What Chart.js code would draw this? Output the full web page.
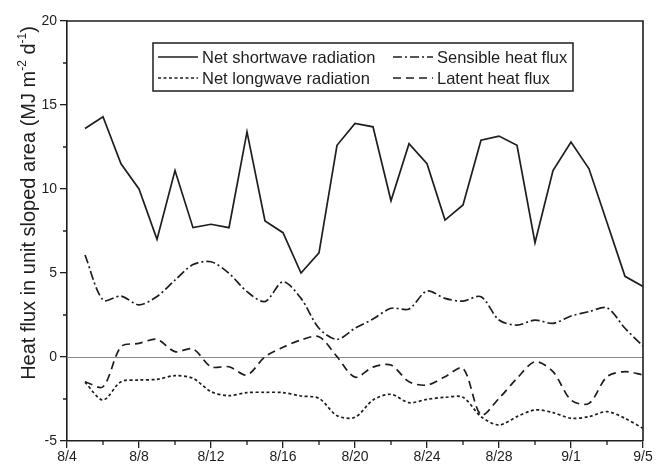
<!DOCTYPE html>
<html>
<head>
<meta charset="utf-8">
<script src="https://cdn.jsdelivr.net/npm/chart.js@4.4.1/dist/chart.umd.min.js"></script>
<style>
  html, body { margin: 0; padding: 0; background: #fff; }
  #wrap { width: 657px; height: 468px; }
</style>
</head>
<body>
<div id="wrap"><canvas id="fluxChart"></canvas></div>
<script>
// daily values, 8/5 .. 9/5
const dates = ['8/5','8/6','8/7','8/8','8/9','8/10','8/11','8/12','8/13','8/14','8/15','8/16',
  '8/17','8/18','8/19','8/20','8/21','8/22','8/23','8/24','8/25','8/26','8/27','8/28','8/29',
  '8/30','8/31','9/1','9/2','9/3','9/4','9/5'];
const shortwave = [13.6,14.3,11.5,10.0,7.0,11.1,7.7,7.9,7.7,13.4,8.1,7.4,5.0,6.2,12.6,13.9,
  13.7,9.3,12.7,11.5,8.15,9.05,12.9,13.15,12.6,6.8,11.1,12.8,11.2,8.0,4.8,4.2];
const longwave = [-1.5,-2.56,-1.47,-1.37,-1.33,-1.11,-1.27,-2.06,-2.3,-2.12,-2.1,-2.12,-2.32,-2.46,-3.49,-3.59,
  -2.56,-2.22,-2.72,-2.52,-2.4,-2.4,-3.55,-4.05,-3.55,-3.15,-3.31,-3.65,-3.55,-3.25,-3.65,-4.25];
const sensible = [6.07,3.39,3.63,3.1,3.6,4.58,5.5,5.67,4.98,3.89,3.3,4.48,3.49,1.71,1.05,1.71,
  2.26,2.9,2.86,3.93,3.49,3.33,3.59,2.2,1.9,2.2,2.0,2.44,2.7,2.93,1.71,0.65];
const latent = [-1.47,-1.77,0.61,0.81,1.05,0.32,0.48,-0.58,-0.58,-1.07,0.02,0.58,1.01,1.21,0.02,-1.2,
  -0.6,-0.48,-1.47,-1.67,-1.17,-0.67,-3.45,-2.46,-1.27,-0.28,-0.87,-2.56,-2.76,-1.17,-0.87,-1.07];

const xTickLabels = ['8/4','8/8','8/12','8/16','8/20','8/24','8/28','9/1','9/5'];
const yTicks = [-5, 0, 5, 10, 15, 20];

// days after 8/4
function dayOffset(s) {
  const p = s.split('/');
  const m = +p[0], d = +p[1];
  return m === 8 ? d - 4 : 27 + d;
}
const pts = arr => arr.map((v, i) => ({ x: dayOffset(dates[i]), y: v }));

const FONT = '"Liberation Sans", Arial, sans-serif';
const INK = '#1e1e1e';

const series = [
  { label: 'Net shortwave radiation', data: shortwave, dash: [], tension: 0 },
  { label: 'Net longwave radiation', data: longwave, dash: [3, 2.5], tension: 0.3 },
  { label: 'Sensible heat flux', data: sensible, dash: [9, 3, 2, 3], tension: 0.3 },
  { label: 'Latent heat flux', data: latent, dash: [8, 5], tension: 0.3 }
];

// frame, zero line, minor ticks, legend and axis title
const decor = {
  id: 'decor',
  beforeDatasetsDraw(chart) {
    const { ctx, chartArea: a, scales: { y } } = chart;
    ctx.save();
    ctx.strokeStyle = '#8a8a8a';
    ctx.lineWidth = 1;
    const y0 = Math.round(y.getPixelForValue(0)) + 0.5;
    ctx.beginPath(); ctx.moveTo(a.left, y0); ctx.lineTo(a.right, y0); ctx.stroke();
    ctx.restore();
  },
  afterDraw(chart) {
    const { ctx, chartArea: a, scales: { x, y } } = chart;
    ctx.save();
    ctx.strokeStyle = INK;
    ctx.lineWidth = 1.6;
    ctx.beginPath();
    ctx.moveTo(a.left, a.top); ctx.lineTo(a.right, a.top); ctx.lineTo(a.right, a.bottom);
    ctx.stroke();

    // minor ticks
    ctx.lineWidth = 1.3;
    ctx.beginPath();
    for (let v = -2.5; v < 20; v += 5) {
      const py = y.getPixelForValue(v);
      ctx.moveTo(a.left - 4, py); ctx.lineTo(a.left, py);
    }
    for (let d = 2; d < 32; d += 4) {
      const px = x.getPixelForValue(d);
      ctx.moveTo(px, a.bottom); ctx.lineTo(px, a.bottom + 4);
    }
    ctx.stroke();

    // legend
    const lx = 153, ly = 43, lw = 420, lh = 48;
    ctx.lineWidth = 1.5;
    ctx.strokeRect(lx, ly, lw, lh);
    ctx.font = '16.5px ' + FONT;
    ctx.fillStyle = INK;
    ctx.textBaseline = 'middle';
    const slots = [
      { s: series[0], x: 158, y: 57, tx: 202 }, { s: series[1], x: 158, y: 78, tx: 202 },
      { s: series[2], x: 393, y: 57, tx: 437 }, { s: series[3], x: 393, y: 78, tx: 437 }
    ];
    slots.forEach(o => {
      ctx.lineWidth = 1.6;
      ctx.setLineDash(o.s.dash);
      ctx.beginPath(); ctx.moveTo(o.x, o.y); ctx.lineTo(o.x + 40, o.y); ctx.stroke();
      ctx.setLineDash([]);
      ctx.fillText(o.s.label, o.tx, o.y + 1);
    });

    // y axis title with superscripts
    const parts = [
      ['Heat flux in unit sloped area (MJ m', false], ['-2', true],
      [' d', false], ['-1', true], [')', false]
    ];
    const big = '20px ' + FONT, small = '12px ' + FONT;
    let total = 0;
    parts.forEach(p => { ctx.font = p[1] ? small : big; total += ctx.measureText(p[0]).width; });
    ctx.translate(0, 203);
    ctx.rotate(-Math.PI / 2);
    let cx = -total / 2;
    ctx.textBaseline = 'alphabetic';
    parts.forEach(p => {
      ctx.font = p[1] ? small : big;
      ctx.fillText(p[0], cx, p[1] ? 26 : 35);
      cx += ctx.measureText(p[0]).width;
    });
    ctx.restore();
  }
};

new Chart(document.getElementById('fluxChart'), {
  type: 'line',
  data: {
    datasets: series.map(s => ({
      label: s.label,
      data: pts(s.data),
      borderColor: INK,
      borderWidth: 1.7,
      borderDash: s.dash,
      tension: s.tension,
      pointRadius: 0,
      fill: false
    }))
  },
  options: {
    responsive: true,
    maintainAspectRatio: false,
    animation: false,
    layout: { padding: { top: 21, right: 14, left: 0, bottom: 0 } },
    plugins: { legend: { display: false }, tooltip: { enabled: false } },
    scales: {
      x: {
        type: 'linear',
        min: 0,
        max: 32,
        afterFit: s => { s.height = 27; },
        afterBuildTicks: s => { s.ticks = xTickLabels.map(t => ({ value: dayOffset(t) })); },
        ticks: {
          color: INK,
          font: { family: FONT, size: 14 },
          padding: 1,
          maxRotation: 0,
          autoSkip: false,
          callback: (v) => xTickLabels.find(t => dayOffset(t) === v) || ''
        },
        grid: { drawOnChartArea: false, tickLength: 7, color: INK, lineWidth: 1.3 },
        border: { display: true, color: INK, width: 1.6 }
      },
      y: {
        min: -5,
        max: 20,
        afterFit: s => { s.width = 67; },
        afterBuildTicks: s => { s.ticks = yTicks.map(v => ({ value: v })); },
        ticks: {
          color: INK,
          font: { family: FONT, size: 14 },
          padding: 3
        },
        grid: { drawOnChartArea: false, tickLength: 7, color: INK, lineWidth: 1.3 },
        border: { display: true, color: INK, width: 1.6 }
      }
    }
  },
  plugins: [decor]
});
</script>
</body>
</html>
